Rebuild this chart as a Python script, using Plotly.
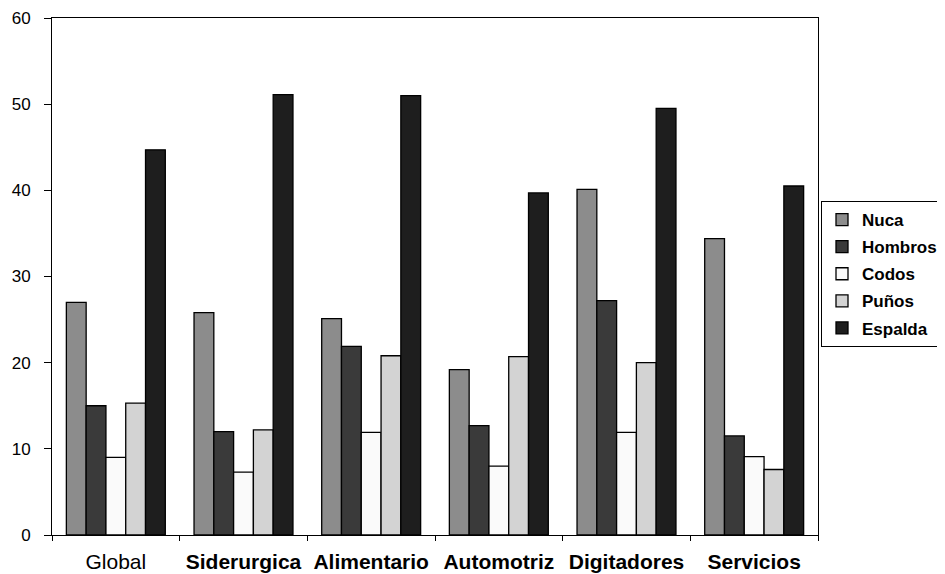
import plotly.graph_objects as go

categories = ["Global", "Siderurgica", "Alimentario", "Automotriz", "Digitadores", "Servicios"]
bold_categories = [False, True, True, True, True, True]
series_names = ["Nuca", "Hombros", "Codos", "Puños", "Espalda"]
nuca = [27.0, 25.8, 25.1, 19.2, 40.1, 34.4]
hombros = [15.0, 12.0, 21.9, 12.7, 27.2, 11.5]
codos = [9.0, 7.3, 11.9, 8.0, 11.9, 9.1]
punos = [15.3, 12.2, 20.8, 20.7, 20.0, 7.6]
espalda = [44.7, 51.1, 51.0, 39.7, 49.5, 40.5]
y_ticks = [0, 10, 20, 30, 40, 50, 60]

series_values = [nuca, hombros, codos, punos, espalda]
colors = ["#8c8c8c", "#3a3a3a", "#fafafa", "#d3d3d3", "#1e1e1e"]

FONT = "Liberation Sans, Arial, sans-serif"

# page body has an 8px margin; figure sized so it ends at the window edge
OFF = 8
W, H = 945 - OFF, 574 - OFF
L = 52 - OFF
T = 18 - OFF
plot_bottom = 535 - OFF
B = H - plot_bottom
plot_right = 818 - OFF
legend_left, legend_top = 821 - OFF, 201 - OFF

fig = go.Figure()
for name, vals, col in zip(series_names, series_values, colors):
    fig.add_trace(go.Bar(
        name=name, x=categories, y=vals,
        marker=dict(color=col, line=dict(color="#000000", width=1.3)),
        legendgroup=name,
    ))

ticktext = [f"<b>{c}</b>" if b else c for c, b in zip(categories, bold_categories)]

paper_w = W - L
paper_h = H - T - B
x_dom = [0, (plot_right - L) / paper_w]

fig.update_layout(
    width=W, height=H,
    margin=dict(l=L, r=0, t=T, b=B, autoexpand=False),
    paper_bgcolor="white", plot_bgcolor="white",
    barmode="group", bargap=0.225, bargroupgap=0,
    font=dict(family=FONT, color="#000000", size=17),
    showlegend=True,
    legend=dict(
        x=(legend_left - L) / paper_w, y=(H - B - legend_top) / paper_h,
        xanchor="left", yanchor="top",
        bordercolor="#000000", borderwidth=1,
        font=dict(family=FONT, size=17, color="#000000", weight="bold"),
        traceorder="grouped", tracegroupgap=2,
        itemwidth=30,
    ),
    xaxis=dict(
        domain=x_dom,
        tickmode="array", tickvals=categories, ticktext=ticktext,
        tickson="boundaries", ticks="outside", ticklen=5, tickcolor="#000000",
        ticklabelstandoff=8,
        showline=True, linecolor="#000000", linewidth=1, mirror=True,
        showgrid=False, zeroline=False, automargin=False,
        tickfont=dict(family=FONT, size=21, color="#000000"),
    ),
    xaxis2=dict(
        domain=x_dom, matches="x", overlaying="x",
        tickmode="array", tickvals=categories,
        tickson="boundaries", ticks="inside", ticklen=4, tickcolor="#000000",
        showticklabels=False, showline=False, showgrid=False, zeroline=False,
        automargin=False,
    ),
    yaxis=dict(
        range=[0, 60], tickvals=y_ticks,
        ticks="outside", ticklen=7, tickcolor="#000000",
        ticklabelstandoff=10,
        showline=True, linecolor="#000000", linewidth=1, mirror=True,
        showgrid=False, zeroline=False, automargin=False,
        tickfont=dict(family=FONT, size=17, color="#000000"),
    ),
    yaxis2=dict(
        range=[0, 60], tickvals=y_ticks, matches="y", overlaying="y",
        ticks="inside", ticklen=6, tickcolor="#000000",
        showticklabels=False, showline=False, showgrid=False, zeroline=False,
        automargin=False,
    ),
)

fig.write_html("out.html")
